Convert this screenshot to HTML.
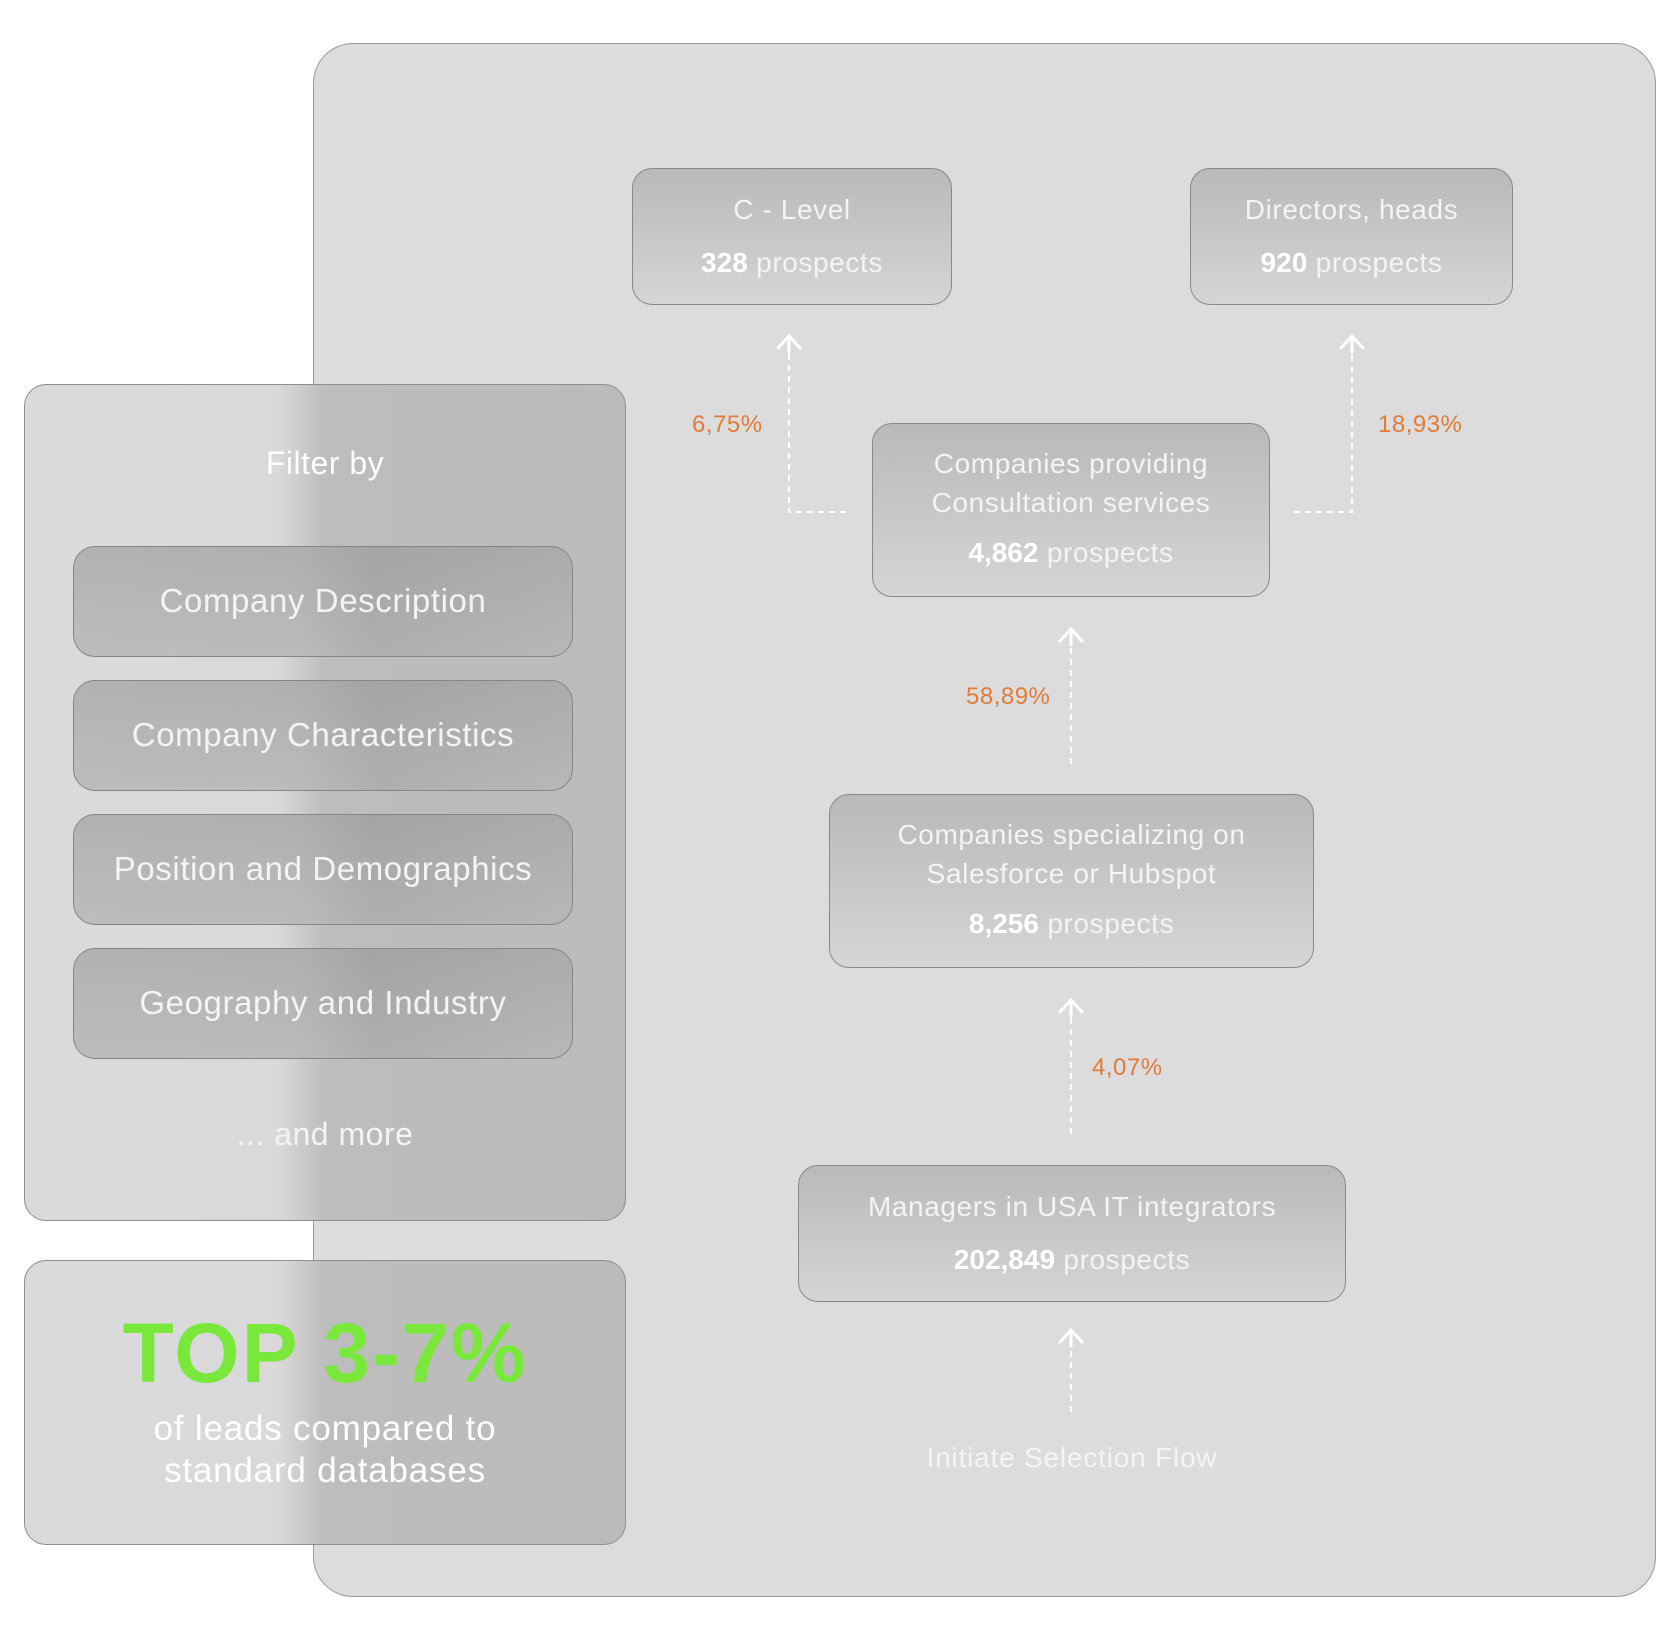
<!DOCTYPE html>
<html><head><meta charset="utf-8"><style>
body{margin:0;width:1680px;height:1640px;background:#fff;position:relative;overflow:hidden;font-family:"Liberation Sans",sans-serif;}
.a{position:absolute;box-sizing:border-box;}
.big{left:313px;top:43px;width:1343px;height:1554px;background:#dcdcdc;border:1.5px solid #999;border-radius:40px;}
.lp{background:linear-gradient(90deg,#dadada 0,#d9d9d9 253px,#bdbdbd 300px,#bbbbbb 100%);border:1.5px solid #8e8e8e;border-radius:22px;}
.btn{left:73px;width:500px;height:111px;border:1.5px solid #858585;border-radius:22px;background:linear-gradient(90deg,rgba(160,160,160,.45) 0,rgba(150,150,150,.4) 220px,rgba(130,130,130,.45) 300px,rgba(140,140,140,.4) 100%),linear-gradient(180deg,#c0c0c0,#d4d4d4);color:#f4f4f4;font-size:33px;letter-spacing:0.6px;text-align:center;line-height:108px;}
.box{border:1.5px solid #888;border-radius:20px;background:linear-gradient(180deg,#b9b9b9,#d5d5d5);color:#f4f4f4;text-align:center;font-size:28px;letter-spacing:0.6px;}
.box b{color:#fff;letter-spacing:0;}
.t{position:absolute;left:0;right:0;text-align:center;}
.pct{position:absolute;color:#e07b39;font-size:24px;letter-spacing:0.5px;}
</style></head><body>
<div class="a big"></div>
<div class="a lp" style="left:24px;top:384px;width:602px;height:837px;"></div>
<div class="a" style="left:24px;top:445px;width:602px;text-align:center;color:#fff;font-size:32px;letter-spacing:0.5px;">Filter by</div>
<div class="a btn" style="top:546px;">Company Description</div>
<div class="a btn" style="top:680px;">Company Characteristics</div>
<div class="a btn" style="top:814px;">Position and Demographics</div>
<div class="a btn" style="top:948px;">Geography and Industry</div>
<div class="a" style="left:24px;top:1116px;width:602px;text-align:center;color:#f4f4f4;font-size:32px;letter-spacing:0.5px;">... and more</div>
<div class="a lp" style="left:24px;top:1260px;width:602px;height:285px;"></div>
<div class="a" style="left:24px;top:1305px;width:602px;text-align:center;color:#7ae83a;font-size:84px;font-weight:bold;letter-spacing:2px;">TOP 3-7%</div>
<div class="a" style="left:24px;top:1408px;width:602px;text-align:center;color:#fff;font-size:35px;line-height:42px;letter-spacing:0.8px;">of leads compared to<br>standard databases</div>

<div class="a box" style="left:632px;top:168px;width:320px;height:137px;"><div class="t" style="top:25px;">C - Level</div><div class="t" style="top:78px;"><b>328</b> prospects</div></div>
<div class="a box" style="left:1190px;top:168px;width:323px;height:137px;"><div class="t" style="top:25px;">Directors, heads</div><div class="t" style="top:78px;"><b>920</b> prospects</div></div>
<div class="a box" style="left:872px;top:423px;width:398px;height:174px;"><div class="t" style="top:24px;">Companies providing</div><div class="t" style="top:63px;">Consultation services</div><div class="t" style="top:113px;"><b>4,862</b> prospects</div></div>
<div class="a box" style="left:829px;top:794px;width:485px;height:174px;"><div class="t" style="top:24px;">Companies specializing on</div><div class="t" style="top:63px;">Salesforce or Hubspot</div><div class="t" style="top:113px;"><b>8,256</b> prospects</div></div>
<div class="a box" style="left:798px;top:1165px;width:548px;height:137px;"><div class="t" style="top:25px;">Managers in USA IT integrators</div><div class="t" style="top:78px;"><b>202,849</b> prospects</div></div>
<div class="a" style="left:798px;top:1442px;width:548px;text-align:center;color:#f4f4f4;font-size:28px;letter-spacing:0.8px;">Initiate Selection Flow</div>

<svg class="a" style="left:0;top:0" width="1680" height="1640">
<g stroke="#fff" stroke-width="2" fill="none" stroke-dasharray="6,5">
<path d="M846 512H789V340"/><path d="M1294 512H1352V340"/>
<path d="M1071 764V634"/><path d="M1071 1134V1005"/><path d="M1071 1412V1335"/>
</g>
<g stroke="#fff" stroke-width="3" fill="none" stroke-linecap="round">
<path d="M778 348L789 336L800 348M789 336V352"/><path d="M1341 348L1352 336L1363 348M1352 336V352"/>
<path d="M1060 641L1071 629L1082 641M1071 629V645"/><path d="M1060 1012L1071 1000L1082 1012M1071 1000V1016"/>
<path d="M1060 1342L1071 1330L1082 1342M1071 1330V1346"/>
</g>
</svg>
<div class="pct" style="left:692px;top:411px;">6,75%</div>
<div class="pct" style="left:1378px;top:411px;">18,93%</div>
<div class="pct" style="left:966px;top:683px;">58,89%</div>
<div class="pct" style="left:1092px;top:1054px;">4,07%</div>
</body></html>
